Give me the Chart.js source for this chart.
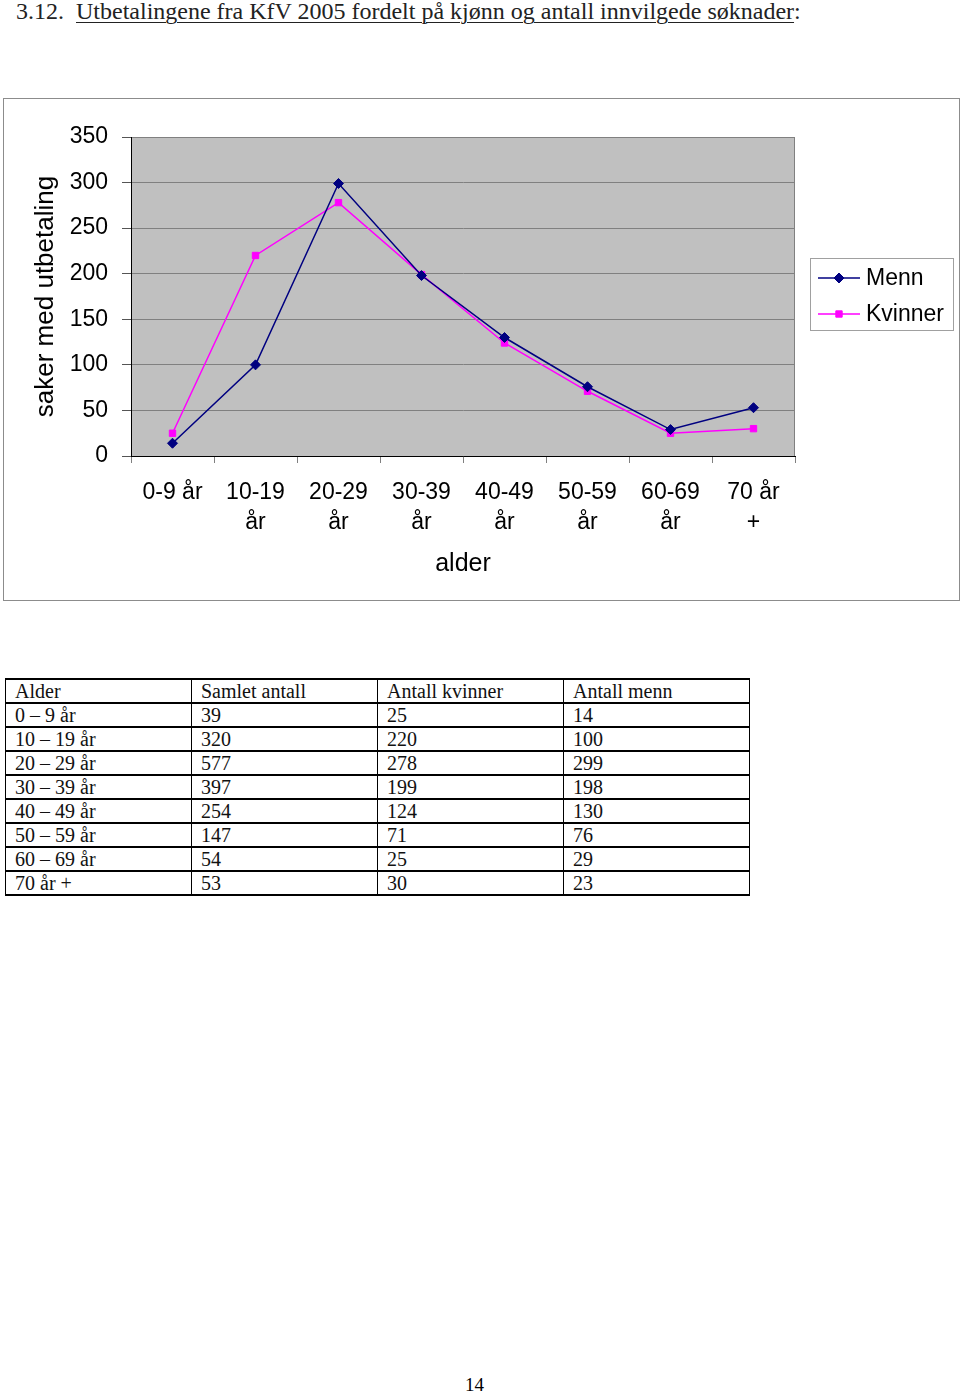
<!DOCTYPE html>
<html>
<head>
<meta charset="utf-8">
<script src="https://cdn.jsdelivr.net/npm/chart.js@4"></script>
<style>
  body { margin: 0; width: 960px; height: 1395px; position: relative; background: #fff; font-family: "Liberation Serif", serif; }
  #title { position: absolute; left: 16px; top: -2px; font-size: 24px; color: #222; white-space: nowrap; }
  #title u { text-decoration-thickness: 1px; text-underline-offset: 3px; }
  #box { position: absolute; left: 3px; top: 98px; width: 955px; height: 501px; border: 1px solid #8c8c8c; }
  #tbl { position: absolute; left: 5px; top: 678px; border-collapse: collapse; font-size: 20px; color: #111; }
  #tbl td { border: 1px solid #000; border-width: 2px 1px; width: 176px; height: 22px; padding: 0 0 0 9px; line-height: 22px; }
  #page { position: absolute; left: 465px; top: 1374px; font-size: 19px; }
</style>
</head>
<body>
<div id="title">3.12.&nbsp; <u>Utbetalingene fra KfV 2005 fordelt på kjønn og antall innvilgede søknader</u>:</div>
<div id="box"><canvas id="chart_div" width="955" height="501"></canvas></div>
<table id="tbl"></table>
<div id="page">14</div>
<script>
// chart data
const ageLabels = [["0-9 år"], ["10-19", "år"], ["20-29", "år"], ["30-39", "år"], ["40-49", "år"], ["50-59", "år"], ["60-69", "år"], ["70 år", "+"]];
const menn = [14, 100, 299, 198, 130, 76, 29, 53];
const kvinner = [25, 220, 278, 199, 124, 71, 25, 30];

// table data
const tableHead = ["Alder", "Samlet antall", "Antall kvinner", "Antall menn"];
const tableAges = ["0 – 9 år", "10 – 19 år", "20 – 29 år", "30 – 39 år", "40 – 49 år", "50 – 59 år", "60 – 69 år", "70 år +"];
const tableSamlet = [39, 320, 577, 397, 254, 147, 54, 53];
const tableKvinner = [25, 220, 278, 199, 124, 71, 25, 30];
const tableMenn = [14, 100, 299, 198, 130, 76, 29, 23];

// build the table
const tbl = document.getElementById('tbl');
let html = '<tr>' + tableHead.map(h => '<td>' + h + '</td>').join('') + '</tr>';
for (let i = 0; i < tableAges.length; i++) {
    html += '<tr><td>' + tableAges[i] + '</td><td>' + tableSamlet[i] + '</td><td>' + tableKvinner[i] + '</td><td>' + tableMenn[i] + '</td></tr>';
}
tbl.innerHTML = html;

const sans = '"Liberation Sans", Arial, sans-serif';

// gray plot area with frame
const plotBg = {
    id: 'plotBg',
    beforeDraw(chart) {
        const a = chart.chartArea, ctx = chart.ctx;
        ctx.save();
        ctx.fillStyle = '#c0c0c0';
        ctx.fillRect(a.left, a.top, a.right - a.left, a.bottom - a.top);
        ctx.strokeStyle = '#808080';
        ctx.lineWidth = 1;
        ctx.strokeRect(a.left + 0.5, a.top + 0.5, a.right - a.left - 1, a.bottom - a.top);
        ctx.restore();
    }
};

// legend with line + marker, in a framed box
const boxLegend = {
    id: 'boxLegend',
    afterDraw(chart) {
        const ctx = chart.ctx;
        const x = 806, y = 159, w = 143, h = 72;
        ctx.save();
        ctx.strokeStyle = '#a0a0a0';
        ctx.lineWidth = 1;
        ctx.strokeRect(x + 0.5, y + 0.5, w, h);
        ctx.font = '23px ' + sans;
        ctx.textBaseline = 'middle';
        chart.data.datasets.forEach((ds, i) => {
            const cy = y + 20 + i * 36;
            ctx.strokeStyle = ds.borderColor;
            ctx.fillStyle = ds.backgroundColor;
            ctx.lineWidth = 1.5;
            ctx.beginPath();
            ctx.moveTo(x + 8, cy);
            ctx.lineTo(x + 50, cy);
            ctx.stroke();
            ctx.lineWidth = 1;
            Chart.helpers.drawPoint(ctx, {
                pointStyle: ds.pointStyle, radius: ds.pointRadius, rotation: 0, borderWidth: 1
            }, x + 29, cy);
            ctx.fillStyle = '#000';
            ctx.fillText(ds.label, x + 56, cy + 1);
        });
        ctx.restore();
    }
};

const ctx = document.getElementById('chart_div').getContext('2d');
new Chart(ctx, {
    type: 'line',
    data: {
        labels: ageLabels,
        datasets: [{
            label: 'Menn',
            data: menn,
            borderColor: '#000080',
            backgroundColor: '#000080',
            borderWidth: 1.5,
            pointStyle: 'rectRot',
            pointRadius: 5,
            pointBorderWidth: 1,
            tension: 0
        }, {
            label: 'Kvinner',
            data: kvinner,
            borderColor: '#ff00ff',
            backgroundColor: '#ff00ff',
            borderWidth: 1.5,
            pointStyle: 'rect',
            pointRadius: 4.5,
            pointBorderWidth: 1,
            tension: 0
        }]
    },
    options: {
        responsive: false,
        animation: false,
        layout: { padding: { top: 38, right: 164, left: 0, bottom: 0 } },
        plugins: {
            legend: { display: false },
            tooltip: { enabled: false }
        },
        scales: {
            x: {
                offset: true,
                grid: { drawOnChartArea: false, offset: true, tickLength: 7, color: '#808080' },
                border: { color: '#000', width: 1 },
                ticks: {
                    color: '#000', padding: 15, maxRotation: 0, autoSkip: false,
                    font: { family: sans, size: 23, lineHeight: 1.3 }
                },
                title: {
                    display: true, text: 'alder', color: '#000', padding: { top: 0, bottom: 21 },
                    font: { family: sans, size: 25 }
                },
                afterFit(s) { s.height = 144; }
            },
            y: {
                min: 0, max: 350,
                ticks: {
                    stepSize: 50, color: '#000', padding: 14,
                    font: { family: sans, size: 23 }
                },
                grid: { color: '#808080', tickLength: 9, tickColor: '#555' },
                border: { color: '#000', width: 1 },
                title: {
                    display: true, text: 'saker med utbetaling', color: '#000', padding: { top: 26, bottom: 0 },
                    font: { family: sans, size: 26 }
                },
                afterFit(s) { s.width = 127; }
            }
        }
    },
    plugins: [plotBg, boxLegend]
});
</script>
</body>
</html>
